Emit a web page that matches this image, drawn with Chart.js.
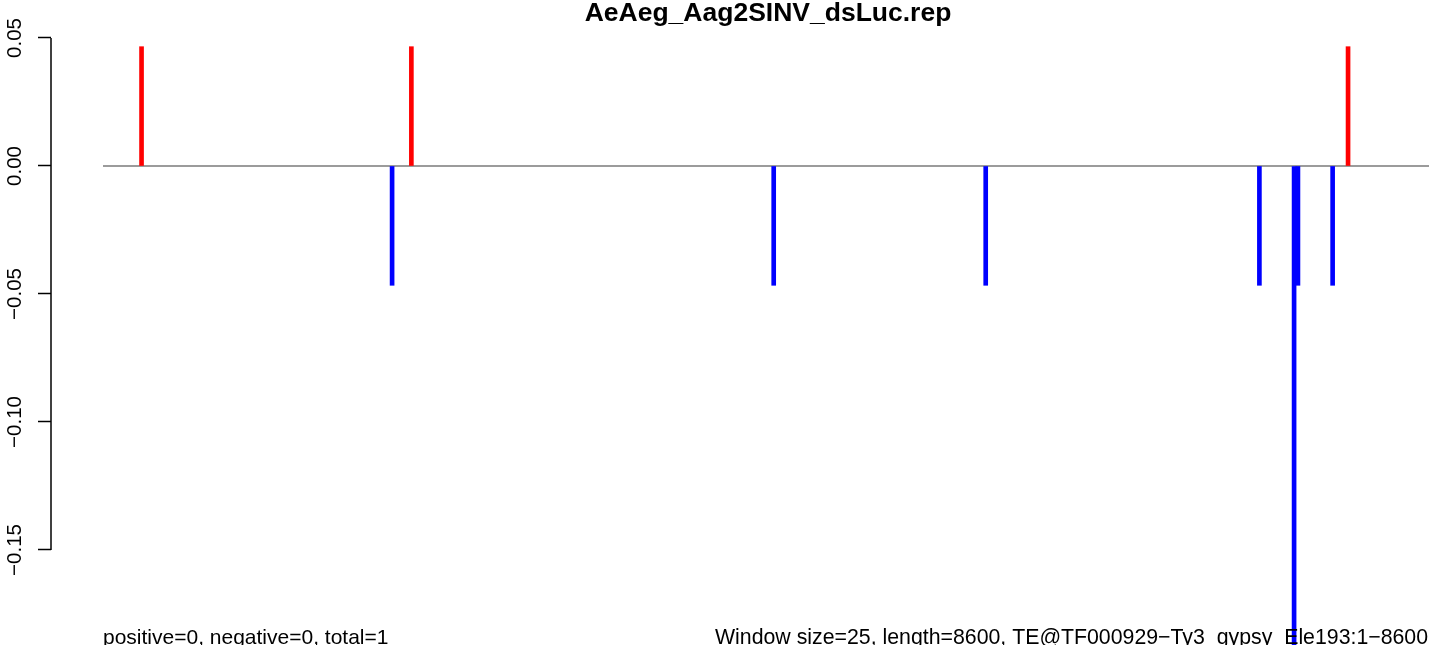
<!DOCTYPE html>
<html>
<head>
<meta charset="utf-8">
<script src="https://cdn.jsdelivr.net/npm/chart.js@4.4.1/dist/chart.umd.min.js"></script>
<style>
  html, body { margin: 0; padding: 0; background: #fff; }
  #wrap { width: 1429px; height: 645px; position: relative; }
</style>
</head>
<body>
<div id="wrap"><canvas id="chart_here" width="1429" height="645"></canvas></div>
<script>
'use strict';
// data (x = position along the element, y = value)
var plotTitle = 'AeAeg_Aag2SINV_dsLuc.rep';
var leftNote = 'positive=0, negative=0, total=1';
var rightNote = 'Window size=25, length=8600, TE@TF000929\u2212Ty3_gypsy_Ele193:1\u22128600';
var seqLength = 8600;

var plusPositions = [250, 2000, 8075];
var plusValues = [0.0466, 0.0466, 0.0466];

var minusPositions = [1875, 4350, 5725, 7500, 7725, 7750, 7975];
var minusValues = [-0.0466, -0.0466, -0.0466, -0.0466, -0.187, -0.0466, -0.0466];

var yTickValues = [0.05, 0, -0.05, -0.10, -0.15];

var fontFam = '"Liberation Sans", Arial, Helvetica, sans-serif';

function toPoints(xs, ys) {
  var out = [];
  for (var i = 0; i < xs.length; i++) {
    out.push({x: xs[i], y: ys[i]});
  }
  return out;
}

function fmtTick(v) {
  var s = Math.abs(v).toFixed(2);
  return v < 0 ? '\u2212' + s : s;
}

// R style axis line (only between first and last tick), rotated tick labels, title and notes
var decorPlugin = {
  id: 'decor',
  afterDraw: function(chart) {
    var ctx = chart.ctx;
    var ys = chart.scales.y;
    var left = chart.chartArea.left;
    ctx.save();
    ctx.strokeStyle = '#000';
    ctx.lineWidth = 1.5;
    ctx.beginPath();
    ctx.moveTo(left, ys.getPixelForValue(yTickValues[0]));
    ctx.lineTo(left, ys.getPixelForValue(yTickValues[yTickValues.length - 1]));
    ctx.stroke();

    ctx.fillStyle = '#000';
    ctx.font = '20.5px ' + fontFam;
    ctx.textAlign = 'center';
    ctx.textBaseline = 'alphabetic';
    for (var i = 0; i < yTickValues.length; i++) {
      var py = ys.getPixelForValue(yTickValues[i]);
      ctx.save();
      ctx.translate(21, py);
      ctx.rotate(-Math.PI / 2);
      ctx.fillText(fmtTick(yTickValues[i]), 0, 0);
      ctx.restore();
    }

    ctx.font = 'bold 26.5px ' + fontFam;
    ctx.textAlign = 'center';
    ctx.fillText(plotTitle, 768, 21);

    ctx.font = '21px ' + fontFam;
    ctx.textAlign = 'left';
    ctx.fillText(leftNote, 103, 644);
    ctx.font = '21.3px ' + fontFam;
    ctx.fillText(rightNote, 715, 644);
    ctx.restore();
  }
};

var ctx = document.getElementById('chart_here').getContext('2d');
var myChart = new Chart(ctx, {
  type: 'bar',
  data: {
    datasets: [
      {
        type: 'line',
        label: 'zero',
        data: [{x: 0, y: 0}, {x: seqLength, y: 0}],
        borderColor: '#7a7a7a',
        borderWidth: 1.3,
        pointRadius: 0,
        order: 3
      },
      {
        label: 'plus',
        data: toPoints(plusPositions, plusValues),
        backgroundColor: '#ff0000',
        barThickness: 4,
        grouped: false,
        order: 1
      },
      {
        label: 'minus',
        data: toPoints(minusPositions, minusValues),
        backgroundColor: '#0000ff',
        barThickness: 4,
        grouped: false,
        order: 2
      }
    ]
  },
  options: {
    responsive: false,
    animation: false,
    events: [],
    layout: { padding: 0 },
    plugins: {
      legend: { display: false },
      tooltip: { enabled: false },
      title: { display: false }
    },
    scales: {
      x: {
        type: 'linear',
        offset: false,
        min: -337.2,
        max: seqLength,
        display: false
      },
      y: {
        type: 'linear',
        min: -0.18711,
        max: 0.06484,
        afterBuildTicks: function(scale) {
          scale.ticks = yTickValues.map(function(v) { return {value: v}; });
        },
        afterFit: function(scale) {
          scale.width = 51;
        },
        border: { display: false },
        grid: {
          drawOnChartArea: false,
          drawTicks: true,
          tickLength: 13,
          tickWidth: 1.5,
          tickColor: '#000'
        },
        ticks: {
          display: false,
          autoSkip: false
        }
      }
    }
  },
  plugins: [decorPlugin]
});
</script>
</body>
</html>
